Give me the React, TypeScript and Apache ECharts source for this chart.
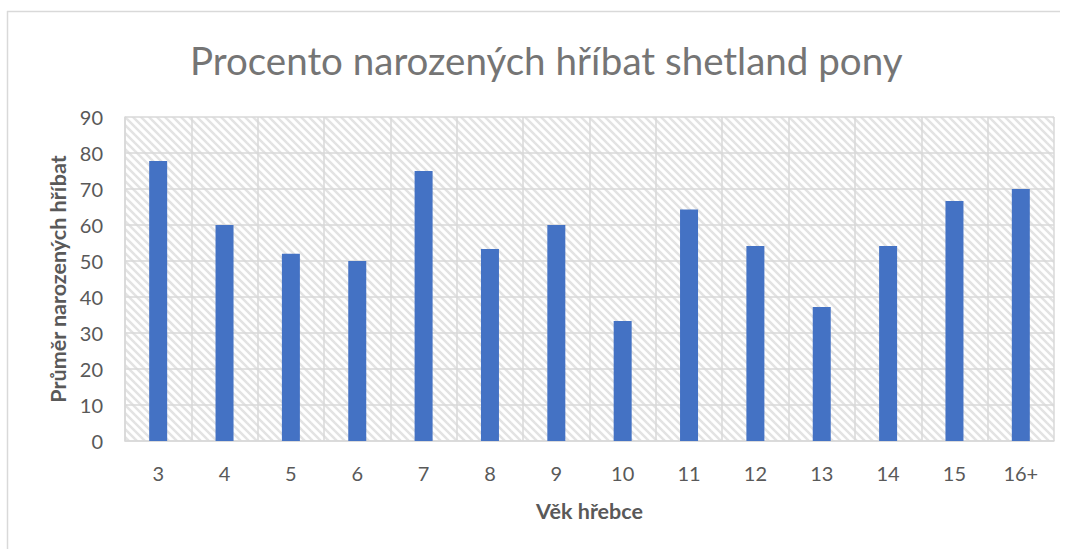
import React, { useEffect, useRef } from "react";
import * as echarts from "echarts";

const categories = ["3", "4", "5", "6", "7", "8", "9", "10", "11", "12", "13", "14", "15", "16+"];
const values = [77.8, 60, 52, 50, 75, 53.3, 60, 33.3, 64.3, 54.2, 37.2, 54.2, 66.7, 70];
const yTicks = { min: 0, max: 90, interval: 10 };

function makePattern(): string {
  const c = document.createElement("canvas");
  c.width = 8;
  c.height = 8;
  const ctx = c.getContext("2d")!;
  ctx.fillStyle = "#ffffff";
  ctx.fillRect(0, 0, 8, 8);
  ctx.strokeStyle = "#e3e3e3";
  ctx.lineWidth = 2.5;
  for (let o = -8; o <= 8; o += 8) {
    ctx.beginPath();
    ctx.moveTo(o - 1, -1);
    ctx.lineTo(o + 9, 9);
    ctx.stroke();
  }
  return c.toDataURL();
}

export default function App() {
  const ref = useRef<HTMLDivElement>(null);
  useEffect(() => {
    if (!ref.current) return;
    const chart = echarts.init(ref.current, null, { renderer: "svg" });
    const font = "Lato";
    chart.setOption({
      animation: false,
      backgroundColor: "#ffffff",
      title: {
        text: "Procento narozených hříbat shetland pony",
        left: 185,
        top: 35,
        textStyle: { fontFamily: font, fontSize: 38.5, fontWeight: "normal", color: "#757575" },
      },
      graphic: [
        { type: "line", shape: { x1: 7.5, y1: 11, x2: 7.5, y2: 549 }, style: { stroke: "#d9d9d9", lineWidth: 1.5 } },
        { type: "line", shape: { x1: 7, y1: 11.5, x2: 1060, y2: 11.5 }, style: { stroke: "#d9d9d9", lineWidth: 1.5 } },
      ],
      grid: {
        left: 125,
        right: 17,
        top: 117,
        bottom: 108,
        show: true,
        borderWidth: 0,
        backgroundColor: { image: makePattern(), repeat: "repeat" } as any,
      },
      xAxis: {
        type: "category",
        data: categories,
        name: "Věk hřebce",
        nameLocation: "middle",
        nameGap: 59,
        nameTextStyle: { fontFamily: font, fontSize: 21.5, fontWeight: "bold", color: "#595959" },
        axisLine: { show: true, lineStyle: { color: "#d9d9d9", width: 1.5 } },
        axisTick: { show: false },
        axisLabel: { fontFamily: font, fontSize: 20, color: "#595959", margin: 22 },
        splitLine: { show: true, interval: 0, lineStyle: { color: "#d9d9d9", width: 1.5 } },
      },
      yAxis: {
        type: "value",
        min: yTicks.min,
        max: yTicks.max,
        interval: yTicks.interval,
        name: "Průměr narozených hříbat",
        nameLocation: "middle",
        nameGap: 53,
        nameTextStyle: { fontFamily: font, fontSize: 21.5, fontWeight: "bold", color: "#595959" },
        axisLine: { show: true, lineStyle: { color: "#d9d9d9", width: 1.5 } },
        axisTick: { show: false },
        axisLabel: { fontFamily: font, fontSize: 20, color: "#595959", margin: 22 },
        splitLine: { show: true, lineStyle: { color: "#d9d9d9", width: 1.5 } },
      },
      series: [
        {
          type: "bar",
          data: values,
          barWidth: 18,
          itemStyle: { color: "#4472c4" },
        },
      ],
    });
    return () => chart.dispose();
  }, []);
  return <div ref={ref} style={{ width: 1071, height: 549, position: "absolute", left: 0, top: 0 }} />;
}
